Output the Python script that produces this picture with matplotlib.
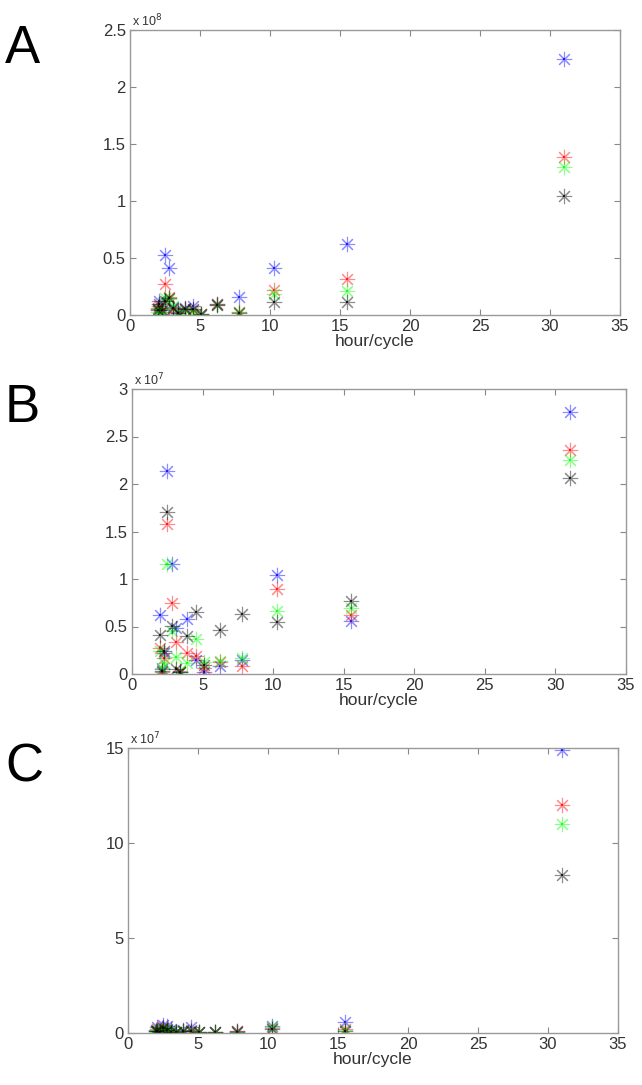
import matplotlib
matplotlib.use("Agg")
import matplotlib.pyplot as plt
from matplotlib.ticker import FormatStrFormatter

plt.rcParams['font.family'] = ['Liberation Sans', 'DejaVu Sans']

# hour/cycle of each sample (same for all panels)
hours = [2.0, 2.1, 2.3, 2.5, 2.8, 3.1, 3.4, 3.9, 4.5, 5.1, 6.2, 7.8, 10.3, 15.5, 31.0]

# panel A, units of 1e8
a_blue  = [0.05, 0.12, 0.01, 0.53, 0.41, 0.07, 0.03, 0.06, 0.08, 0.00, 0.10, 0.16, 0.41, 0.62, 2.25]
a_red   = [0.06, 0.08, 0.03, 0.27, 0.16, 0.05, 0.02, 0.05, 0.04, 0.01, 0.10, 0.03, 0.22, 0.32, 1.39]
a_green = [0.03, 0.05, 0.02, 0.15, 0.14, 0.08, 0.01, 0.04, 0.03, 0.01, 0.09, 0.03, 0.18, 0.21, 1.30]
a_black = [0.04, 0.10, 0.04, 0.12, 0.15, 0.06, 0.02, 0.05, 0.05, 0.01, 0.09, 0.02, 0.115, 0.11, 1.04]

# panel B, units of 1e7
b_blue  = [0.62, 0.05, 0.22, 2.14, 1.16, 0.48, 0.02, 0.58, 0.15, 0.02, 0.08, 0.15, 1.04, 0.56, 2.76]
b_red   = [0.27, 0.02, 0.17, 1.58, 0.75, 0.34, 0.03, 0.22, 0.19, 0.06, 0.13, 0.08, 0.90, 0.62, 2.36]
b_green = [0.24, 0.06, 0.12, 1.16, 0.45, 0.18, 0.02, 0.12, 0.37, 0.13, 0.14, 0.17, 0.66, 0.69, 2.25]
b_black = [0.41, 0.03, 0.24, 1.71, 0.51, 0.05, 0.02, 0.40, 0.65, 0.10, 0.46, 0.63, 0.55, 0.77, 2.06]

# panel C, units of 1e7
c_blue  = [0.15, 0.30, 0.10, 0.40, 0.35, 0.20, 0.05, 0.15, 0.30, 0.05, 0.05, 0.10, 0.35, 0.60, 14.9]
c_red   = [0.10, 0.20, 0.05, 0.30, 0.20, 0.10, 0.05, 0.10, 0.15, 0.05, 0.03, 0.08, 0.25, 0.20, 12.0]
c_green = [0.05, 0.15, 0.05, 0.20, 0.20, 0.10, 0.03, 0.10, 0.10, 0.05, 0.03, 0.05, 0.30, 0.15, 11.0]
c_black = [0.08, 0.10, 0.05, 0.25, 0.15, 0.05, 0.03, 0.08, 0.10, 0.05, 0.03, 0.05, 0.20, 0.10, 8.3]

letters = ['A', 'B', 'C']
exponents = [8, 7, 7]
y_max = [2.5, 3, 15]
y_step = [0.5, 0.5, 5]
series = [
    [a_blue, a_red, a_green, a_black],
    [b_blue, b_red, b_green, b_black],
    [c_blue, c_red, c_green, c_black],
]
colors = ['blue', 'red', 'lime', 'black']

W, H = 642, 1085
# axes boxes in pixels: left, top, right, bottom
boxes = [(130, 30, 620, 315), (132, 389, 626, 674), (128, 748, 618, 1033)]

fig = plt.figure(figsize=(W / 100, H / 100), dpi=100)

for i in range(3):
    l, t, r, b = boxes[i]
    ax = fig.add_axes([l / W, 1 - b / H, (r - l) / W, (b - t) / H])

    for vals, c in zip(series[i], colors):
        ax.plot(hours, vals, linestyle='none', marker=(8, 2, 0), markersize=11,
                mew=0.8, color=c, alpha=0.45)
        ax.plot(hours, vals, linestyle='none', marker='s', markersize=2,
                mew=0, color=c, alpha=0.8)

    ax.set_xlim(0, 35)
    ax.set_ylim(0, y_max[i])
    ax.set_xticks(range(0, 36, 5))
    n = int(round(y_max[i] / y_step[i]))
    ax.set_yticks([k * y_step[i] for k in range(n + 1)])
    ax.yaxis.set_major_formatter(FormatStrFormatter('%g'))

    ax.tick_params(direction='in', top=True, right=True, length=4, width=0.8,
                   color='#888888', labelcolor='#333333', labelsize=12, pad=3)
    for s in ax.spines.values():
        s.set_color('#999999')
        s.set_linewidth(1.0)

    ax.set_xlabel('hour/cycle', fontsize=12.5, color='#333333', labelpad=0)
    ax.text(0.005, 1.004, r'x 10$^{%d}$' % exponents[i], transform=ax.transAxes,
            ha='left', va='bottom', fontsize=9, color='#333333')

    fig.text(5 / W, 1 - (t + 33) / H, letters[i], fontsize=38,
             va='baseline', ha='left', color='black')

fig.savefig('out.png', dpi=100)
